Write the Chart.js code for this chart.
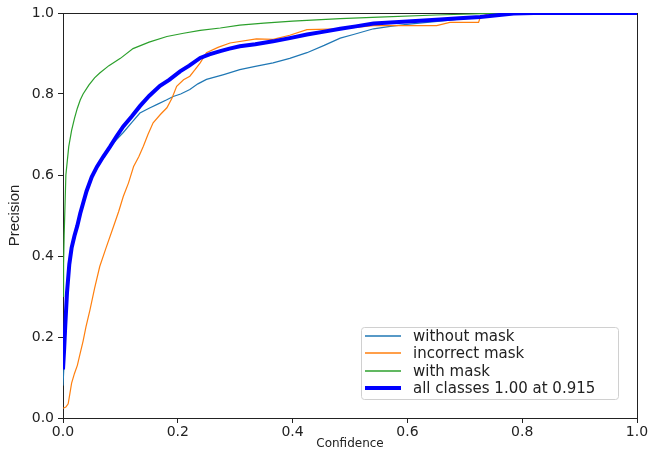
<!DOCTYPE html>
<html>
<head>
<meta charset="utf-8">
<script src="https://cdn.jsdelivr.net/npm/chart.js@4/dist/chart.umd.min.js"></script>
<style>
html,body{margin:0;padding:0;background:#fff;}
canvas{display:block;}
</style>
</head>
<body>
<canvas id="c" width="650" height="451"></canvas>
<script>
const seriesLabels = ["without mask", "incorrect mask", "with mask", "all classes 1.00 at 0.915"];
const tickLabels = ["0.0", "0.2", "0.4", "0.6", "0.8", "1.0"];

const withoutMaskX = [0,0.002,0.004,0.007,0.011,0.015,0.02,0.025,0.03,0.036,0.041,0.05,0.059,0.07,0.082,0.093,0.105,0.12,0.134,0.15,0.165,0.18,0.192,0.205,0.221,0.235,0.25,0.28,0.308,0.335,0.366,0.395,0.425,0.455,0.483,0.506,0.541,0.57,0.599,0.63,0.657,0.69,0.727,0.75,0.78,1.0];
const withoutMaskY = [0.08,0.14,0.21,0.30,0.38,0.42,0.45,0.475,0.505,0.535,0.56,0.595,0.62,0.645,0.668,0.687,0.705,0.73,0.753,0.765,0.775,0.785,0.794,0.8,0.811,0.825,0.836,0.848,0.86,0.868,0.877,0.888,0.902,0.92,0.938,0.947,0.961,0.967,0.972,0.976,0.98,0.985,0.99,0.996,1.0,1.0];

const incorrectMaskX = [0,0.005,0.009,0.012,0.015,0.02,0.025,0.03,0.035,0.04,0.047,0.055,0.064,0.075,0.088,0.097,0.105,0.114,0.123,0.132,0.14,0.148,0.157,0.17,0.181,0.19,0.198,0.21,0.221,0.23,0.239,0.25,0.27,0.291,0.337,0.366,0.395,0.425,0.483,0.541,0.651,0.674,0.724,0.727,0.744,1.0];
const incorrectMaskY = [0.024,0.027,0.035,0.06,0.086,0.11,0.13,0.16,0.19,0.225,0.267,0.32,0.374,0.42,0.473,0.51,0.547,0.58,0.621,0.645,0.671,0.7,0.729,0.75,0.766,0.79,0.819,0.835,0.844,0.86,0.877,0.902,0.915,0.926,0.936,0.935,0.945,0.959,0.961,0.969,0.969,0.977,0.977,0.99,1.0,1.0];

const withMaskX = [0,0.001,0.002,0.005,0.01,0.015,0.02,0.025,0.03,0.035,0.045,0.055,0.064,0.08,0.1,0.122,0.15,0.181,0.21,0.239,0.274,0.308,0.35,0.4,0.483,0.55,0.65,0.744,0.8,1.0];
const withMaskY = [0.3,0.38,0.45,0.6,0.67,0.71,0.74,0.765,0.785,0.8,0.822,0.84,0.852,0.87,0.888,0.912,0.928,0.942,0.95,0.957,0.963,0.97,0.975,0.98,0.986,0.99,0.995,0.999,1.0,1.0];

const allClassesX = [0,0.002,0.004,0.007,0.011,0.015,0.02,0.025,0.03,0.036,0.041,0.05,0.059,0.07,0.082,0.093,0.105,0.12,0.134,0.15,0.169,0.185,0.204,0.22,0.239,0.255,0.274,0.29,0.308,0.335,0.366,0.395,0.425,0.455,0.483,0.51,0.541,0.6,0.657,0.69,0.727,0.76,0.785,0.82,1.0];
const allClassesY = [0.12,0.17,0.23,0.31,0.38,0.42,0.45,0.475,0.505,0.535,0.56,0.595,0.62,0.645,0.67,0.695,0.72,0.745,0.77,0.795,0.82,0.835,0.856,0.87,0.889,0.898,0.906,0.912,0.918,0.923,0.93,0.938,0.947,0.954,0.961,0.967,0.974,0.979,0.984,0.987,0.99,0.995,0.999,1.0,1.0];

function pts(xs, ys){ return xs.map((x,i)=>({x:x, y:ys[i]})); }

const frame = {
  id: 'frame',
  beforeDatasetsDraw(chart){
    const a = chart.chartArea, ctx = chart.ctx;
    ctx.save();
    ctx.strokeStyle = '#222';
    ctx.lineWidth = 1;
    ctx.strokeRect(Math.round(a.left)+0.5, Math.round(a.top)+0.5, Math.round(a.right-a.left), Math.round(a.bottom-a.top));
    ctx.restore();
  }
};

const legendBox = {
  id: 'legendBox',
  afterDraw(chart){
    const ctx = chart.ctx;
    const x0 = 361, y0 = 327, w = 257, h = 72, r = 3;
    ctx.save();
    ctx.fillStyle = 'rgba(255,255,255,0.85)';
    ctx.strokeStyle = '#d0d0d0';
    ctx.lineWidth = 1;
    ctx.beginPath();
    ctx.roundRect(x0+0.5, y0+0.5, w, h, r);
    ctx.fill();
    ctx.stroke();
    const rows = [336, 353, 371, 388];
    ctx.font = '15px "DejaVu Sans"';
    ctx.textBaseline = 'middle';
    chart.data.datasets.forEach((ds, i) => {
      const y = rows[i];
      const lw = ds.borderWidth >= 3 ? 4 : 1.5;
      ctx.strokeStyle = ds.borderColor;
      ctx.lineWidth = lw;
      ctx.beginPath();
      ctx.moveTo(365, y);
      ctx.lineTo(401, y);
      ctx.stroke();
      ctx.fillStyle = '#222';
      ctx.fillText(ds.label, 413, y + 1);
    });
    ctx.restore();
  }
};

new Chart(document.getElementById('c'), {
  type: 'scatter',
  data: {
    datasets: [
      { label: seriesLabels[0], data: pts(withoutMaskX, withoutMaskY), borderColor: '#1f77b4', borderWidth: 1.2, showLine: true, pointRadius: 0, order: 3 },
      { label: seriesLabels[1], data: pts(incorrectMaskX, incorrectMaskY), borderColor: '#ff7f0e', borderWidth: 1.2, showLine: true, pointRadius: 0, order: 2 },
      { label: seriesLabels[2], data: pts(withMaskX, withMaskY), borderColor: '#2ca02c', borderWidth: 1.2, showLine: true, pointRadius: 0, order: 1 },
      { label: seriesLabels[3], data: pts(allClassesX, allClassesY), borderColor: '#0000ff', borderWidth: 4, showLine: true, pointRadius: 0, order: 0 }
    ]
  },
  options: {
    responsive: false,
    animation: false,
    devicePixelRatio: 1,
    layout: { padding: { top: 13, right: 13, left: 0, bottom: 0 } },
    plugins: { legend: { display: false }, tooltip: { enabled: false } },
    scales: {
      x: {
        type: 'linear', min: 0, max: 1,
        afterFit(s){ s.height = 33; },
        border: { display: true, color: '#222', width: 1 },
        grid: { display: true, drawOnChartArea: false, drawTicks: true, tickLength: 5, color: '#222' },
        ticks: { stepSize: 0.2, color: '#222', padding: 1, maxRotation: 0, font: { family: 'DejaVu Sans', size: 14 },
          callback: (v) => tickLabels[Math.round(v*5)] },
        title: { display: true, text: 'Confidence', color: '#222', padding: { top: 0, bottom: 0 }, font: { family: 'DejaVu Sans', size: 12 } }
      },
      y: {
        type: 'linear', min: 0, max: 1,
        afterFit(s){ s.width = 63; },
        border: { display: true, color: '#222', width: 1 },
        grid: { display: true, drawOnChartArea: false, drawTicks: true, tickLength: 5, color: '#222' },
        ticks: { stepSize: 0.2, color: '#222', padding: 4, font: { family: 'DejaVu Sans', size: 14 },
          callback: (v) => tickLabels[Math.round(v*5)] },
        title: { display: true, text: 'Precision', color: '#222', padding: { top: 6, bottom: 0 }, font: { family: 'Liberation Sans', size: 15 } }
      }
    }
  },
  plugins: [frame, legendBox]
});
</script>
</body>
</html>
